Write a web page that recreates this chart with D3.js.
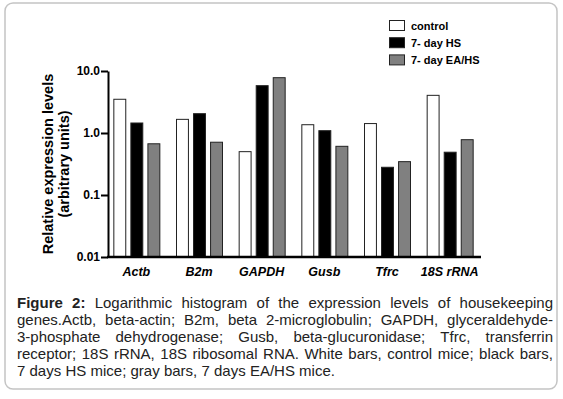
<!DOCTYPE html>
<html>
<head>
<meta charset="utf-8">
<script src="https://cdn.jsdelivr.net/npm/d3@7"></script>
<style>
  body { margin: 0; background: #fff; }
  svg { display: block; font-family: "Liberation Sans", Arial, sans-serif; }
</style>
</head>
<body>
<svg id="chart" width="563" height="399"></svg>
<script>
// chart values
var genes = ['Actb', 'B2m', 'GAPDH', 'Gusb', 'Tfrc', '18S rRNA'];
var seriesNames = ['control', '7- day HS', '7- day EA/HS'];
var control = [3.5, 1.66, 0.50, 1.36, 1.42, 4.05];
var hs = [1.45, 2.05, 5.8, 1.09, 0.28, 0.49];
var eahs = [0.67, 0.71, 7.8, 0.61, 0.345, 0.78];
var tickVals = [0.01, 0.1, 1, 10];
var tickLabels = ['0.01', '0.1', '1.0', '10.0'];
var fills = ['#ffffff', '#000000', '#808080'];

var captionLines = [
    'Logarithmic histogram of the expression levels of housekeeping',
    'genes.Actb, beta-actin; B2m, beta 2-microglobulin; GAPDH, glyceraldehyde-',
    '3-phosphate dehydrogenase; Gusb, beta-glucuronidase; Tfrc, transferrin',
    'receptor; 18S rRNA, 18S ribosomal RNA. White bars, control mice; black bars,',
    '7 days HS mice; gray bars, 7 days EA/HS mice.'
];

var svg = d3.select('#chart');

// frame
svg.append('rect')
    .attr('x', 5).attr('y', 3)
    .attr('width', 552).attr('height', 386)
    .attr('rx', 8)
    .attr('fill', 'none')
    .attr('stroke', '#c4c4c4')
    .attr('stroke-width', 1.5);

var values = [control, hs, eahs];
var data = genes.map((g, i) => ({
    gene: g,
    bars: seriesNames.map((s, j) => ({ series: s, idx: j, value: values[j][i] }))
}));

var x0 = d3.scaleBand().domain(genes).range([105, 481]);
var x1 = d3.scaleBand().domain(seriesNames).range([0, 46]).paddingInner(0.3);
var y = d3.scaleLog().domain([0.01, 10]).range([257, 71]);

// bars
var groups = svg.selectAll('.grp')
    .data(data)
    .join('g')
    .classed('grp', true)
    .attr('transform', d => `translate(${x0(d.gene) + x0.bandwidth() / 2 - 23},0)`);

groups.selectAll('rect')
    .data(d => d.bars)
    .join('rect')
    .attr('x', d => x1(d.series) + 0.5)
    .attr('y', d => y(d.value))
    .attr('width', x1.bandwidth())
    .attr('height', d => y(0.01) - y(d.value))
    .attr('fill', d => fills[d.idx])
    .attr('stroke', '#222')
    .attr('stroke-width', 1);

// y axis
var yAxis = svg.append('g')
    .attr('transform', 'translate(108,0)')
    .call(d3.axisLeft(y).tickValues(tickVals).tickSize(7).tickSizeOuter(0)
        .tickFormat((d, i) => tickLabels[i]));
yAxis.select('.domain').attr('stroke-width', 2);
yAxis.selectAll('.tick line').attr('stroke-width', 2);
yAxis.selectAll('.tick text')
    .attr('x', -8)
    .style('font-family', '"Liberation Sans", Arial, sans-serif')
    .style('font-size', '12px')
    .style('font-weight', 'bold')
    .attr('fill', '#000');

// x axis line + labels
var xAxis = svg.append('g')
    .attr('transform', 'translate(0,257)')
    .call(d3.axisBottom(x0).tickSize(0).tickSizeOuter(0).tickPadding(10));
xAxis.select('.domain').attr('d', 'M107,0H481').attr('stroke-width', 2.5);
xAxis.selectAll('.tick text')
    .style('font-family', '"Liberation Sans", Arial, sans-serif')
    .style('font-size', '12.5px')
    .style('font-weight', 'bold')
    .style('font-style', 'italic')
    .attr('fill', '#000');

// y title
var yt = svg.append('text')
    .attr('transform', 'translate(53,164) rotate(-90)')
    .attr('text-anchor', 'middle')
    .style('font-size', '14.5px')
    .style('font-weight', 'bold');
yt.append('tspan').attr('x', 0).attr('dy', 0).text('Relative expression levels');
yt.append('tspan').attr('x', 0).attr('dy', 16).text('(arbitrary units)');

// legend
var legend = svg.append('g').attr('transform', 'translate(389,20)');
var li = legend.selectAll('g')
    .data(seriesNames)
    .join('g')
    .attr('transform', (d, i) => `translate(0,${i * 17.2})`);
li.append('rect')
    .attr('x', 0.5).attr('y', 0.5)
    .attr('width', 15).attr('height', 10)
    .attr('fill', (d, i) => fills[i])
    .attr('stroke', '#222');
li.append('text')
    .attr('x', 22).attr('y', 9.5)
    .style('font-size', '11px')
    .style('font-weight', 'bold')
    .text(d => d);

// caption, justified
var capLeft = 17, capRight = 553, capTop = 308, capStep = 17;
var cap = svg.append('g').style('font-size', '15px').attr('fill', '#222');

captionLines.forEach((line, li) => {
    var words = line.split(' ');
    var parts = [];
    if (li === 0) parts.push({ t: 'Figure', bold: true }, { t: '2:', bold: true });
    words.forEach(w => parts.push({ t: w, bold: false }));
    var nodes = parts.map(p => cap.append('text')
        .attr('y', capTop + li * capStep)
        .style('font-weight', p.bold ? 'bold' : 'normal')
        .text(p.t));
    var widths = nodes.map(n => n.node().getComputedTextLength());
    var total = d3.sum(widths);
    var last = li === captionLines.length - 1;
    var gap = last ? 4.2 : Math.max(2.5, (capRight - capLeft - total) / (parts.length - 1));
    var cx = capLeft;
    nodes.forEach((n, k) => {
        n.attr('x', cx);
        cx += widths[k] + gap;
    });
});
</script>
</body>
</html>
